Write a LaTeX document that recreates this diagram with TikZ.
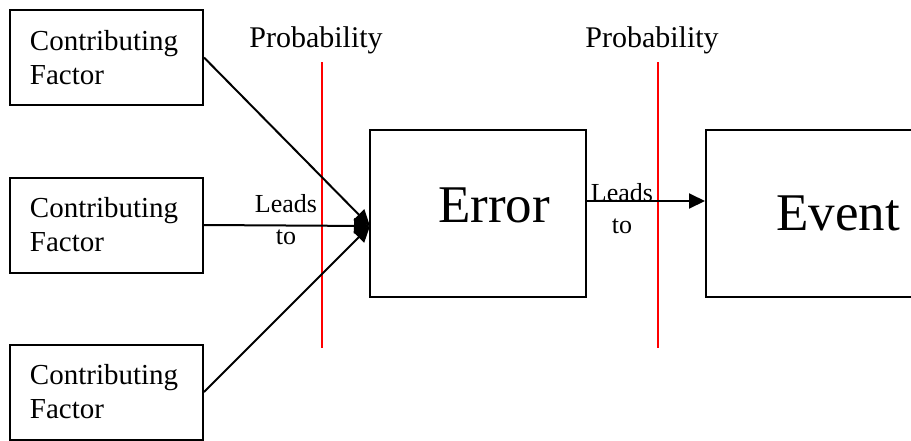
\documentclass[tikz,border=0pt]{standalone}
\usepackage{fontspec}
\setmainfont{Liberation Serif}
\usetikzlibrary{arrows.meta}
\begin{document}
\begin{tikzpicture}[x=1pt,y=-1pt,
  box/.style={draw,line width=2pt,inner sep=0pt},
  cfbox/.style={box,text width=153pt,align=left,inner xsep=20pt,inner ysep=0pt,minimum height=95pt,font=\fontsize{29}{34}\selectfont},
  bigbox/.style={box,minimum width=216pt,minimum height=167pt},
  bigtext/.style={font=\fontsize{53}{60}\selectfont,inner sep=0pt},
  probtext/.style={font=\fontsize{30}{34}\selectfont,inner sep=0pt},
  leadtext/.style={font=\fontsize{26}{32}\selectfont,align=center,inner sep=0pt},
  redline/.style={draw=red,line width=2pt},
  arr/.style={line width=2pt,-{Triangle[length=16pt,width=15pt]}}
]
\clip (0,0) rectangle (911,440);
\fill[white] (0,0) rectangle (911,440);
% red probability lines
\draw[redline] (322,62) -- (322,348);
\draw[redline] (658,62) -- (658,348);
\node[probtext] (p1) at (316,40) {Probability};
\node[probtext] (p2) at (652,40) {Probability};
% boxes
\node[cfbox] (cf1) at (106.5,57.5) {Contributing\\Factor};
\node[cfbox] (cf2) at (106.5,225) {Contributing\\Factor};
\node[cfbox] (cf3) at (106.5,392) {Contributing\\Factor};
\node[bigbox] (err) at (478,213.5) {};
\node[bigbox] (evt) at (814,213.5) {};
\node[bigtext] (errt) at (494,205) {Error};
\node[bigtext] (evtt) at (838,213) {Event};
% labels
\node[leadtext] (l1) at (286,220) {Leads\\to};
\node[leadtext] (l2) at (622,209) {Leads\\to};
% connectors
\coordinate (hub) at (370,226);
\draw[arr] (cf1.east) -- (hub);
\draw[arr] (cf2.east) -- (hub);
\draw[arr] (cf3.east) -- (hub);
\draw[arr] ([yshift=12.5pt]err.east) -- ([yshift=12.5pt]evt.west);
\end{tikzpicture}
\end{document}
